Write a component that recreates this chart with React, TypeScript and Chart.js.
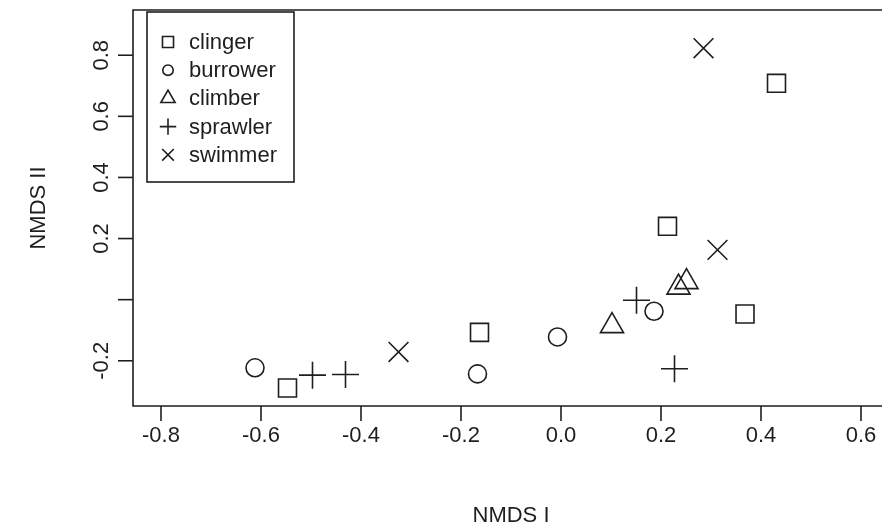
import React, { useEffect, useRef } from 'react';
import { Chart, registerables } from 'chart.js';

Chart.register(...registerables);

// ---- data ----
const clingerX = [0.431, 0.213, 0.368, -0.163, -0.547];
const clingerY = [0.708, 0.240, -0.047, -0.107, -0.289];
const burrowerX = [-0.612, -0.167, -0.007, 0.186];
const burrowerY = [-0.223, -0.243, -0.122, -0.038];
const climberX = [0.102, 0.235, 0.251];
const climberY = [-0.086, 0.040, 0.058];
const sprawlerX = [-0.497, -0.431, 0.151, 0.227];
const sprawlerY = [-0.247, -0.245, -0.002, -0.226];
const swimmerX = [0.285, 0.313, -0.325];
const swimmerY = [0.823, 0.163, -0.171];

const groupNames = ['clinger', 'burrower', 'climber', 'sprawler', 'swimmer'];
const xTicks = [-0.8, -0.6, -0.4, -0.2, 0.0, 0.2, 0.4, 0.6];
const xTickLabels = ['-0.8', '-0.6', '-0.4', '-0.2', '0.0', '0.2', '0.4', '0.6'];
const yTicks = [-0.2, 0.0, 0.2, 0.4, 0.6, 0.8];
const yTickLabels = ['-0.2', '', '0.2', '0.4', '0.6', '0.8'];
const xTitle = 'NMDS I';
const yTitle = 'NMDS II';

// ---- styles ----
const INK = '#1e1e1e';
const LW = 1.6;
const FONT = '22px "Liberation Sans", Arial, Helvetica, sans-serif';
const pointStyles = ['rect', 'circle', 'triangle', 'cross', 'crossRot'];
const pointRadii = [12.7, 9, 13.3, 13.5, 14];
const legendRadii = [7.8, 5.2, 8.2, 8.2, 8.2];

const toPts = (xs: number[], ys: number[]) => xs.map((v, i) => ({ x: v, y: ys[i] }));
const groupData = [
  toPts(clingerX, clingerY),
  toPts(burrowerX, burrowerY),
  toPts(climberX, climberY),
  toPts(sprawlerX, sprawlerY),
  toPts(swimmerX, swimmerY),
];

function drawSymbol(ctx: CanvasRenderingContext2D, style: string, cx: number, cy: number, r: number) {
  ctx.beginPath();
  if (style === 'rect') {
    const h = r * Math.SQRT1_2;
    ctx.rect(cx - h, cy - h, 2 * h, 2 * h);
  } else if (style === 'circle') {
    ctx.arc(cx, cy, r, 0, Math.PI * 2);
  } else if (style === 'triangle') {
    for (let k = 0; k < 3; k++) {
      const a = (k * 2 * Math.PI) / 3;
      const px = cx + Math.sin(a) * r;
      const py = cy - Math.cos(a) * r;
      if (k === 0) ctx.moveTo(px, py);
      else ctx.lineTo(px, py);
    }
    ctx.closePath();
  } else if (style === 'cross') {
    ctx.moveTo(cx - r, cy);
    ctx.lineTo(cx + r, cy);
    ctx.moveTo(cx, cy - r);
    ctx.lineTo(cx, cy + r);
  } else {
    const d = r * Math.SQRT1_2;
    ctx.moveTo(cx - d, cy - d);
    ctx.lineTo(cx + d, cy + d);
    ctx.moveTo(cx - d, cy + d);
    ctx.lineTo(cx + d, cy - d);
  }
  ctx.stroke();
}

const framePlugin = {
  id: 'rframe',
  afterDraw(chart: any) {
    const { ctx, chartArea: a } = chart;
    const xs = chart.scales.x;
    const ys = chart.scales.y;
    ctx.save();
    ctx.strokeStyle = INK;
    ctx.fillStyle = INK;
    ctx.lineWidth = LW;

    // plot box (right side lies beyond the canvas)
    ctx.beginPath();
    ctx.moveTo(chart.width + 10, a.top);
    ctx.lineTo(a.left, a.top);
    ctx.lineTo(a.left, a.bottom);
    ctx.lineTo(chart.width + 10, a.bottom);
    ctx.stroke();

    ctx.font = FONT;
    // x axis
    ctx.textAlign = 'center';
    ctx.textBaseline = 'middle';
    xTicks.forEach((v, i) => {
      const px = xs.getPixelForValue(v);
      ctx.beginPath();
      ctx.moveTo(px, a.bottom);
      ctx.lineTo(px, a.bottom + 15);
      ctx.stroke();
      ctx.fillText(xTickLabels[i], px, a.bottom + 30);
    });
    ctx.fillText(xTitle, (a.left + xs.getPixelForValue(0.656)) / 2, 516);

    // y axis
    yTicks.forEach((v, i) => {
      const py = ys.getPixelForValue(v);
      ctx.beginPath();
      ctx.moveTo(a.left, py);
      ctx.lineTo(a.left - 15, py);
      ctx.stroke();
      if (yTickLabels[i]) {
        ctx.save();
        ctx.translate(a.left - 31, py);
        ctx.rotate(-Math.PI / 2);
        ctx.fillText(yTickLabels[i], 0, 0);
        ctx.restore();
      }
    });
    ctx.save();
    ctx.translate(39, (a.top + a.bottom) / 2);
    ctx.rotate(-Math.PI / 2);
    ctx.fillText(yTitle, 0, 0);
    ctx.restore();

    // legend
    const bx = 147, by = 12, bw = 147, bh = 170;
    ctx.lineWidth = LW;
    ctx.strokeRect(bx, by, bw, bh);
    ctx.textAlign = 'left';
    groupNames.forEach((name, i) => {
      const cy = by + 30 + i * 28.2;
      drawSymbol(ctx, pointStyles[i], bx + 21, cy, legendRadii[i]);
      ctx.fillText(name, bx + 42, cy + 1);
    });
    ctx.restore();
  },
};

export default function App() {
  const ref = useRef<HTMLCanvasElement>(null);
  useEffect(() => {
    if (!ref.current) return;
    const chart = new Chart(ref.current, {
      type: 'scatter',
      data: {
        datasets: groupNames.map((name, i) => ({
          label: name,
          data: groupData[i],
          pointStyle: pointStyles[i] as any,
          pointRadius: pointRadii[i],
          pointHoverRadius: pointRadii[i],
          borderColor: INK,
          backgroundColor: 'rgba(0,0,0,0)',
          borderWidth: LW,
          pointBorderWidth: LW,
          showLine: false,
        })),
      },
      options: {
        responsive: false,
        animation: false,
        events: [],
        layout: { autoPadding: false, padding: { left: 133, right: 0, top: 10, bottom: 126 } },
        scales: {
          x: { type: 'linear', display: false, min: -0.856, max: 0.642 },
          y: { type: 'linear', display: false, min: -0.348, max: 0.948 },
        },
        plugins: { legend: { display: false }, tooltip: { enabled: false } },
      },
      plugins: [framePlugin],
    });
    return () => chart.destroy();
  }, []);
  return (
    <div style={{ position: 'absolute', left: 0, top: 0, width: 882, height: 532, background: '#fff' }}>
      <canvas ref={ref} width={882} height={532} style={{ display: 'block' }} />
    </div>
  );
}
